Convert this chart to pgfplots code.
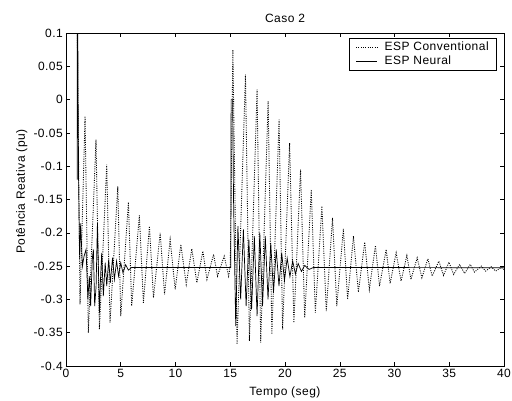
\documentclass[border=0pt]{standalone}
\usepackage{pgfplots}
\pgfplotsset{compat=1.18}
\usepackage{fontspec}
\setmainfont{Liberation Sans}[LetterSpace=4]
\newcommand{\lf}{\fontsize{12bp}{14bp}\selectfont}
\begin{document}
\lf
\begin{tikzpicture}
\path[use as bounding box] (-66bp,-35bp) rectangle (446bp,366bp);
\begin{axis}[
  scale only axis, width=438bp, height=333bp,
  xmin=0, xmax=40, ymin=-0.4, ymax=0.1,
  xtick={0,5,10,15,20,25,30,35,40},
  ytick={-0.4,-0.35,-0.3,-0.25,-0.2,-0.15,-0.1,-0.05,0,0.05,0.1},
  yticklabels={-0.4,-0.35,-0.3,-0.25,-0.2,-0.15,-0.1,-0.05,0,0.05,0.1},
  /pgf/number format/assume math mode=true,
  tick align=inside, major tick length=4bp,
  every tick/.style={black, line width=0.5bp},
  axis line style={black, line width=0.6bp},
  tick label style={font=\lf},
  yticklabel style={xshift=1bp},
  xticklabel style={yshift=1bp},
  title={Caso 2},
  title style={font=\lf, yshift=0bp},
  xlabel={Tempo (seg)},
  ylabel={Potência Reativa (pu)},
  label style={font=\lf},
  xlabel style={yshift=-1bp},
  ylabel style={yshift=-2bp, xshift=8bp},
  legend style={at={(0.984,0.985)}, anchor=north east, draw=black, line width=0.6bp,
    font=\lf, inner xsep=6bp, inner ysep=1.5bp, row sep=0bp},
  legend cell align=left,
  legend image code/.code={\draw[#1] (0bp,0bp) -- (21bp,0bp); \path (26bp,0bp);},
]
\addplot[black, line width=0.85bp, dash pattern=on 1bp off 1.3bp] coordinates {
(1.03,0.1)(1.28,-0.3075)(1.74,-0.025)(2.04,-0.35)(2.74,-0.06)(3.05,-0.345)
(3.72,-0.0975)(4.02,-0.335)(4.73,-0.13)(5.00,-0.325)(5.70,-0.154)(6.00,-0.31)
(6.70,-0.174)(7.07,-0.305)(7.62,-0.19)(7.99,-0.2975)(8.60,-0.20)(9.00,-0.2925)
(9.51,-0.21)(9.97,-0.285)(10.49,-0.2175)(10.98,-0.2775)(11.49,-0.224)(11.95,-0.275)
(12.50,-0.2275)(12.87,-0.27)(13.48,-0.2325)(13.84,-0.265)(14.45,-0.235)(14.85,-0.265)
(15.00,-0.25)(15.24,0.075)(15.62,-0.3675)(16.39,0.0375)(16.75,-0.3625)(17.45,0.015)
(17.78,-0.365)(18.46,-0.0025)(18.80,-0.3525)(19.46,-0.03)(19.78,-0.345)(20.42,-0.065)
(20.81,-0.335)(21.42,-0.105)(21.80,-0.3275)(22.40,-0.135)(22.77,-0.32)(23.37,-0.16)
(23.77,-0.3175)(24.34,-0.1775)(24.73,-0.31)(25.33,-0.194)(25.72,-0.30)(26.25,-0.205)
(26.70,-0.289)(27.28,-0.214)(27.70,-0.285)(28.26,-0.219)(28.63,-0.28)(29.24,-0.225)
(29.60,-0.276)(30.15,-0.23)(30.60,-0.2725)(31.13,-0.234)(31.50,-0.27)(32.07,-0.2375)
(32.50,-0.2675)(33.05,-0.239)(33.44,-0.265)(34.05,-0.2425)(34.48,-0.264)(34.97,-0.244)
(35.40,-0.2625)(35.95,-0.2475)(36.40,-0.261)(36.92,-0.2475)(37.30,-0.259)(37.93,-0.25)
(38.32,-0.2575)(38.84,-0.251)(39.24,-0.2575)(39.76,-0.252)(40.00,-0.255)
};
\addlegendentry{ESP Conventional}
\addplot[black, line width=0.7bp] coordinates {
(1.02,-0.12)(1.03,0.10)(1.08,0.10)(1.10,0.02)(1.15,-0.12)(1.22,-0.21)(1.25,-0.24)
(1.34,-0.186)(1.50,-0.25)(1.65,-0.235)(1.83,-0.225)(2.00,-0.30)(2.13,-0.265)
(2.25,-0.31)(2.40,-0.24)(2.50,-0.225)(2.62,-0.31)(2.75,-0.28)(2.87,-0.185)
(3.05,-0.32)(3.15,-0.27)(3.26,-0.23)(3.41,-0.295)(3.58,-0.245)(3.72,-0.28)
(3.90,-0.24)(4.05,-0.275)(4.25,-0.2375)(4.42,-0.27)(4.62,-0.2425)(4.80,-0.265)
(5.00,-0.245)(5.20,-0.26)(5.45,-0.248)(5.70,-0.256)(6.00,-0.252)(15.05,-0.252)
(15.08,0.0)(15.22,0.0)(15.30,-0.15)(15.50,-0.34)(15.70,-0.19)(15.95,-0.30)
(16.20,-0.195)(16.45,-0.31)(16.70,-0.21)(16.95,-0.315)(17.20,-0.205)(17.45,-0.325)
(17.70,-0.20)(17.95,-0.31)(18.20,-0.205)(18.45,-0.30)(18.70,-0.215)(18.95,-0.29)
(19.20,-0.225)(19.45,-0.28)(19.70,-0.23)(19.95,-0.272)(20.20,-0.238)(20.45,-0.266)
(20.70,-0.242)(20.95,-0.262)(21.20,-0.246)(21.50,-0.258)(21.80,-0.249)(22.20,-0.255)
(22.60,-0.252)(40.00,-0.2525)
};
\addlegendentry{ESP Neural}
\end{axis}
\end{tikzpicture}
\end{document}
